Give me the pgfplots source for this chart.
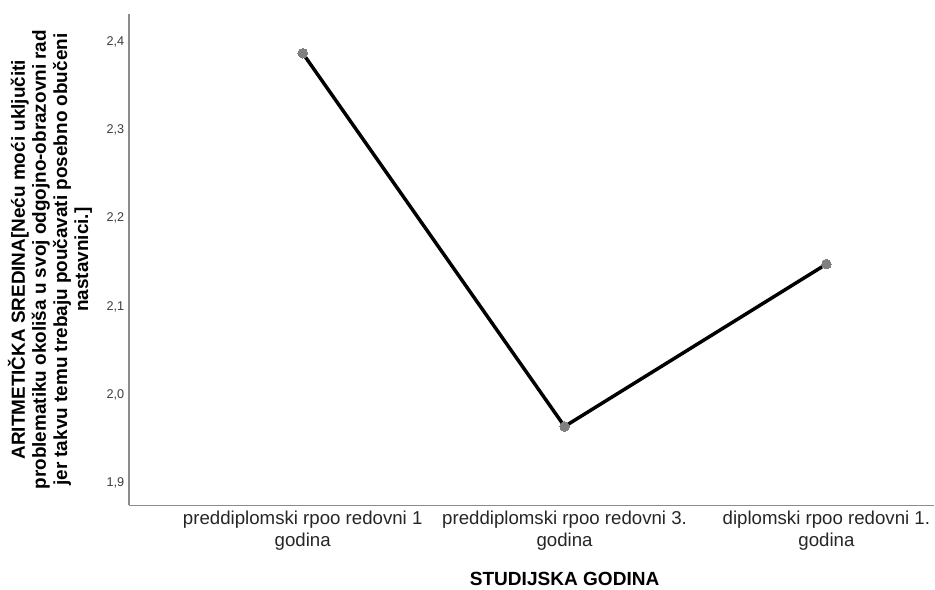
\documentclass[border=0pt]{standalone}
\usepackage{fontspec}
\setmainfont{Liberation Sans}
\usepackage{pgfplots}
\pgfplotsset{compat=1.18}

\definecolor{axisgray}{RGB}{140,140,140}
\definecolor{markgray}{RGB}{128,128,128}
\definecolor{labelgray}{RGB}{60,60,60}

\begin{document}
\begin{tikzpicture}[x=1pt,y=1pt]
\begin{axis}[
    name=main,
    at={(0,0)},
    anchor=south west,
    scale only axis,
    width=604.5pt,
    height=368.8pt,
    xmin=-0.664, xmax=2.412,
    ymin=1.8746, ymax=2.4315,
    axis lines*=left,
    axis line style={draw=axisgray, line width=1.1pt, -},
    major tick length=0pt,
    xtick={0,1,2},
    xticklabels={{preddiplomski rpoo redovni 1\\godina},
                 {preddiplomski rpoo redovni 3.\\godina},
                 {diplomski rpoo redovni 1.\\godina}},
    x tick label style={align=center, font=\fontsize{14}{16.5}\selectfont, text=black!85, yshift=-1pt},
    ytick={1.9,2.0,2.1,2.2,2.3,2.4},
    y tick label style={font=\fontsize{9.5}{11}\selectfont, text=labelgray},
    /pgf/number format/assume math mode=true,
    /pgf/number format/use comma,
    /pgf/number format/fixed,
    /pgf/number format/fixed zerofill,
    /pgf/number format/precision=1,
    xlabel={STUDIJSKA GODINA},
    xlabel style={font=\fontsize{14.3}{16}\selectfont\bfseries, at={(axis description cs:0.541,0)}, anchor=center, yshift=-55pt},
    ylabel={ARITMETIČKA SREDINA[Neću moći uključiti\\problematiku okoliša u svoj odgojno-obrazovni rad\\jer takvu temu trebaju poučavati posebno obučeni\\nastavnici.]},
    ylabel style={font=\fontsize{14.2}{15.8}\selectfont\bfseries, align=center, at={(axis description cs:-0.098,0.5)}, anchor=center},
    clip=false,
]
\addplot[black, line width=2.6pt, mark=*, mark size=3.6pt,
         mark options={fill=markgray, draw=markgray, line width=0pt}]
coordinates {(0,2.387) (1,1.964) (2,2.148)};
\end{axis}
\useasboundingbox (main.south west) ++(-96.75pt,-62.45pt) rectangle ([shift={(0pt,10.5pt)}]main.north east);
\end{tikzpicture}
\end{document}
